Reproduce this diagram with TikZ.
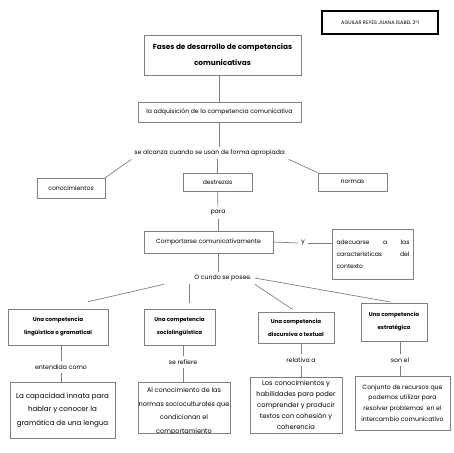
\documentclass[tikz,border=0pt]{standalone}
\usepackage{fontspec}
\setmainfont{Poppins}
\usepackage{tikz}
\definecolor{linegray}{gray}{0.5}
\tikzset{%
  % Specifications for style of nodes:
            base/.style = {rectangle, draw=linegray, line width=0.7pt, fill=white,
                           align=center, inner sep=2pt,
                           font=\fontsize{6.1}{11}\selectfont},
       authorbox/.style = {base, draw=black, line width=1.3pt,
                           minimum width=116pt, minimum height=23pt,
                           font=\fontsize{5}{6}\selectfont},
        titlebox/.style = {base, minimum width=157pt, minimum height=40pt,
                           font=\fontsize{7.3}{16}\selectfont\bfseries},
         headbox/.style = {base, font=\fontsize{5.5}{13}\selectfont\bfseries},
       plaintext/.style = {inner sep=3pt, align=center,
                           font=\fontsize{6.2}{11}\selectfont},
            link/.style = {draw=linegray, line width=0.7pt},
}

\begin{document}
\begin{tikzpicture}[x=1pt, y=-1pt]
  \useasboundingbox[fill=white] (0,0) rectangle (453,453);
  % Specification of nodes (position, etc.)

  \node (author)    [authorbox] at (380,22.5) {AGUILAR REYES JUANA ISABEL 2°I};
  \node (title)     [titlebox] at (222.5,55) {Fases de desarrollo de competencias\\comunicativas};
  \node (adq)       [base, minimum width=163pt, minimum height=20pt] at (219.5,112) {la adquisición de la competencia comunicativa};
  \node (alc)       [plaintext] at (210,153) {se alcanza cuando se usan de forma apropiada:};
  \node (cono)      [base, minimum width=68pt, minimum height=20pt] at (71,188) {conocimientos};
  \node (destr)     [base, minimum width=69pt, minimum height=18pt] at (217.5,182) {destrezas};
  \node (normas)    [base, minimum width=69pt, minimum height=18pt] at (352.5,182) {normas};
  \node (para)      [plaintext] at (218,213) {para};
  \node (comp)      [base, minimum width=129pt, minimum height=22pt] at (208.5,242) {Comportarse comunicativamente};
  \node (and)       [plaintext] at (303,243) {y};
  \node (adec)      [base, text width=73pt, align=justify, inner xsep=4pt, minimum height=50pt,
                     font=\fontsize{6.1}{12}\selectfont] at (373,254)
                    {adecuarse a las\linebreak características del\linebreak contexto};
  \node (posee)     [plaintext] at (223,278) {O cundo se posee.};

  \node (gram)      [headbox, minimum width=100pt, minimum height=36pt] at (58,327) {Una competencia\\lingüística o gramatical};
  \node (socio)     [headbox, minimum width=71pt, minimum height=36pt] at (179.5,327) {Una competencia\\sociolingüística};
  \node (disc)      [headbox, minimum width=76pt, minimum height=31pt] at (296,327.5) {Una competencia\\discursiva o textual};
  \node (estr)      [headbox, minimum width=66pt, minimum height=38pt] at (394,322) {Una competencia\\estratégica};

  \node (ent)       [plaintext] at (61,367) {entendida como};
  \node (ref)       [plaintext] at (183,362) {se refiere};
  \node (rel)       [plaintext] at (301,360) {relativa a};
  \node (son)       [plaintext] at (400,360) {son el};

  \node (def1)      [base, minimum width=105pt, minimum height=56pt, font=\fontsize{7.1}{13.7}\selectfont] at (62.5,410) {La capacidad innata para\\hablar y conocer la\\gramática de una lengua};
  \node (def2)      [base, minimum width=92pt, minimum height=51pt] at (184,407.5) {};
  \begin{scope}
    \clip (def2.north west) rectangle (def2.south east);
    \node (def2text)  [plaintext, anchor=north, font=\fontsize{6.5}{13.5}\selectfont] at ([yshift=-3pt]def2.north) {Al conocimiento de las\\normas socioculturales que\\condicionan el\\comportamiento};
  \end{scope}
  \node (def3)      [base, minimum width=92pt, minimum height=56pt, font=\fontsize{6.7}{10.8}\selectfont] at (296,405) {Los conocimientos y\\habilidades para poder\\comprender y producir\\textos con cohesión y\\coherencia};
  \node (def4)      [base, minimum width=95pt, minimum height=54pt, font=\fontsize{6.2}{10.8}\selectfont] at (402.5,403) {Conjunto de recursos que\\podemos utilizar para\\resolver problemas\ \ en el\\intercambio comunicativo};

  \draw[link] (adq.north) -- (adq.north |- title.south);
  \draw[link] (adq.south) -- (adq.south |- alc.north);
  \draw[link] (alc.south west) -- (cono.north east);
  \draw[link] (destr.north) -- (destr.north |- alc.south);
  \draw[link] (alc.south east) -- (normas.north west);
  \draw[link] (destr) -- (para);
  \draw[link] (para) -- (para |- comp.north);
  \draw[link] (comp.east) -- (and.west);
  \draw[link] (and.east) -- (and.east -| adec.west);
  \draw[link] (comp.south -| para) -- (posee.north -| para);
  \draw[link, shorten <=28pt, shorten >=31pt] (posee.west) -- (gram.north);
  \draw[link, shorten >=6pt] ([xshift=10pt]socio.north |- posee.south) -- ([xshift=10pt]socio.north);
  \draw[link, shorten >=4pt] (posee.south east) -- (disc.north);
  \draw[link, shorten >=3pt] (posee.east) -- (estr.north);
  \draw[link] (ent.north) -- (ent.north |- gram.south);
  \draw[link] (ent.south) -- (ent.south |- def1.north);
  \draw[link] (ref.north) -- (ref.north |- socio.south);
  \draw[link] (ref.south) -- (ref.south |- def2.north);
  \draw[link] (rel.north) -- (rel.north |- disc.south);
  \draw[link] (rel.south) -- (rel.south |- def3.north);
  \draw[link] (son.north) -- (son.north |- estr.south);
  \draw[link] (son.south) -- (son.south |- def4.north);

  \end{tikzpicture}
\end{document}
